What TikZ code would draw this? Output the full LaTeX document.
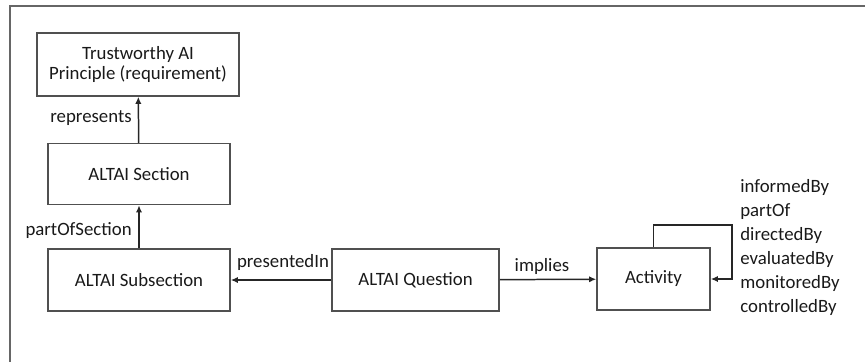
\documentclass[tikz,border=0pt]{standalone}
\usepackage{fontspec}
\setmainfont{Carlito}
\usetikzlibrary{arrows.meta}
\definecolor{boxgray}{RGB}{80,80,80}
\definecolor{txtgray}{RGB}{25,25,25}
\tikzset{
  box/.style={draw=boxgray, line width=0.85pt, rectangle, text=txtgray, align=center},
  rel/.style={text=txtgray, inner sep=0pt},
  link/.style={draw=black!85, line width=0.85pt, -{Latex[length=4pt,width=3.5pt]}}
}
\begin{document}
\begin{tikzpicture}[x=0.02cm, y=-0.02cm, font=\fontsize{10.7}{13.7}\selectfont]
      \useasboundingbox (0,0) rectangle (865,362);
      \draw[black!60, line width=1pt] (865,6) -- (10,6) -- (10,362);
      
      \node[box, minimum width=202*0.02cm, minimum height=63*0.02cm,
            font=\fontsize{10.7}{11}\selectfont] (trust) at (138,64.5) {Trustworthy AI\\Principle (requirement)};
      \node[box, minimum width=182*0.02cm, minimum height=61*0.02cm] (section) at (139,174) {ALTAI Section};
      \node[box, minimum width=182*0.02cm, minimum height=62*0.02cm] (subsec) at (139,280) {ALTAI Subsection};
      \node[box, minimum width=167*0.02cm, minimum height=62*0.02cm] (question) at (415.5,280) {ALTAI Question};
      \node[box, minimum width=113*0.02cm, minimum height=62*0.02cm] (activity) at (653.5,279) {Activity};
      
      \draw[link] (section) -- (trust);
      \draw[link] (subsec) -- (section);
      \draw[link] (question) -- (subsec);
      \draw[link] (question) -- (activity);
      \coordinate (loop) at (732,225);
      \draw[link] (activity.north) |- (loop) |- (activity.east);
      
      \node[rel, anchor=east] (represents) at (132,118) {represents};
      \node[rel, anchor=east] (partof) at (132,231) {partOfSection};
      \node[rel] (presented) at (283,262) {presentedIn};
      \node[rel] (implies) at (542,266) {implies};
      \node[rel, anchor=west, align=left] (relations) at (740,247.5) {informedBy\\partOf\\directedBy\\evaluatedBy\\monitoredBy\\controlledBy};
      
\end{tikzpicture}
\end{document}
